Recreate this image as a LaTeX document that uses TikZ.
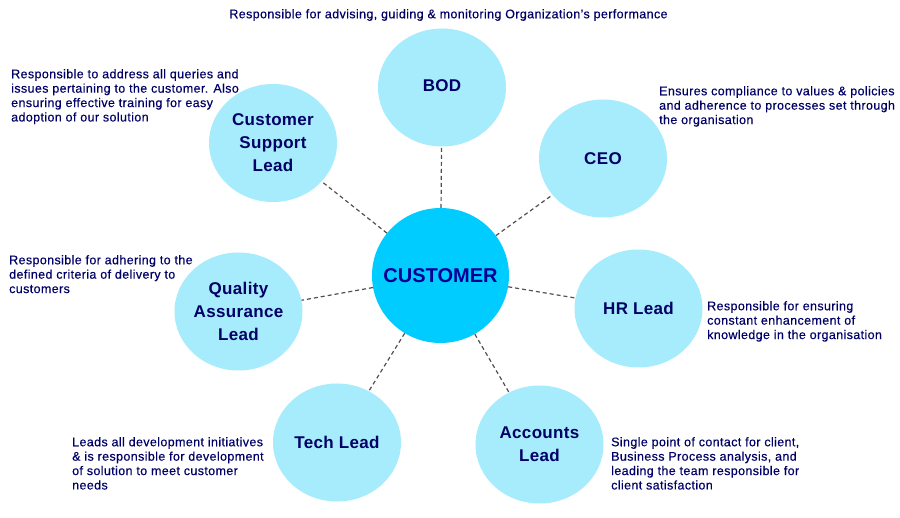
\documentclass[tikz,border=0pt]{standalone}
\usepackage{fontspec}
\setmainfont{Liberation Sans}
\usetikzlibrary{shapes.geometric}

\definecolor{bubblefill}{RGB}{166,236,252}
\definecolor{hubfill}{RGB}{0,204,255}
\definecolor{inkblue}{RGB}{0,0,102}
\definecolor{hubink}{RGB}{0,0,150}
\definecolor{linkgray}{RGB}{80,80,80}

\begin{document}
\begin{tikzpicture}
        [
            x = 1pt, y = -1pt,
            role/.style = {ellipse, fill = bubblefill, minimum width = 128pt, minimum height = 118pt, inner sep = -15pt, align = center, text = inkblue, font = \fontsize{17}{23}\selectfont\bfseries\addfontfeature{LetterSpace=2}},
            hubnode/.style = {ellipse, fill = hubfill, minimum width = 137pt, minimum height = 135pt, inner sep = -30pt, text = hubink, font = \fontsize{20}{24}\selectfont\bfseries},
            note/.style = {anchor = north west, inner sep = 0pt, align = left, text = inkblue, font = \fontsize{12.5}{14.4}\selectfont\addfontfeature{LetterSpace=3,FakeBold=0.3}},
            link/.style = {draw = linkgray, line width = 1.2pt, dash pattern = on 4pt off 3pt},
        ]

        \fill[white] (0,0) rectangle (900,518);
        \useasboundingbox (0,0) rectangle (900,518);

        \node[hubnode] (customer) at (440.5,275.5) {CUSTOMER};

        \node[role] (bod) at (442,87.5) {\raisebox{4pt}{BOD}};
        \node[role] (ceo) at (603,158.5) {CEO};
        \node[role] (csl) at (273,143) {Customer\\Support\\Lead};
        \node[role] (qa) at (238.5,311.5) {Quality\\Assurance\\Lead};
        \node[role] (hr) at (638.5,308.5) {HR Lead};
        \node[role] (tech) at (337,442.5) {Tech Lead};
        \node[role] (acc) at (539.5,444.5) {Accounts\\Lead};

        \foreach \r in {bod,ceo,csl,qa,hr,tech,acc}
            \draw[link] (customer) -- (\r);

        \node[note, anchor = north] (bodnote) at (448.5,9) {Responsible for advising, guiding \& monitoring Organization's performance};
        \node[note] (cslnote) at (11,69) {Responsible to address all queries and\\issues pertaining to the customer. Also\\ensuring effective training for easy\\adoption of our solution};
        \node[note] (ceonote) at (659,86) {Ensures compliance to values \& policies\\and adherence to processes set through\\the organisation};
        \node[note] (qanote) at (9,255) {Responsible for adhering to the\\defined criteria of delivery to\\customers};
        \node[note] (hrnote) at (707,301) {Responsible for ensuring\\constant enhancement of\\knowledge in the organisation};
        \node[note] (technote) at (72,437) {Leads all development initiatives\\\& is responsible for development\\of solution to meet customer\\needs};
        \node[note] (accnote) at (611,437) {Single point of contact for client,\\Business Process analysis, and\\leading the team responsible for\\client satisfaction};

    \end{tikzpicture}
\end{document}
